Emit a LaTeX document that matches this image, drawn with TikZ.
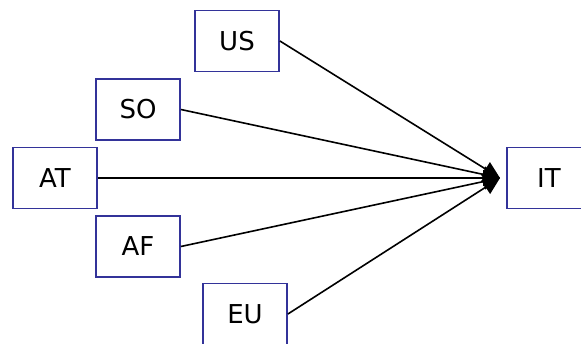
\documentclass[tikz,border=0pt]{standalone}
\usepackage{fontspec}
\setmainfont{DejaVu Sans}
\usepackage{xcolor}
\usetikzlibrary{arrows.meta,positioning}
\definecolor{boxblue}{HTML}{333399}
\begin{document}
\begin{tikzpicture}[x=1pt,y=1pt,
    box/.style={draw=boxblue,line width=1.8pt,minimum width=84pt,minimum height=61pt,
      inner sep=0pt,font=\fontsize{26}{30}\selectfont},
    flow/.style={-{Triangle[length=17pt,width=16pt]},line width=1.6pt,black}
  ]
    \useasboundingbox (0,0) rectangle (581,343);
    \node[box] (us) at (237,302) {US};
    \node[box] (so) at (138,233.5) {SO};
    \node[box] (at) at (55,165) {AT};
    \node[box] (af) at (138,96.5) {AF};
    \node[box] (eu) at (245,29) {EU};
    \node[box] (it) at (549,165) {IT};
    \coordinate (hub) at (500,165);
    \draw[flow] (us.east) -- (hub);
    \draw[flow] (so.east) -- (hub);
    \draw[flow] (at.east) -- (hub);
    \draw[flow] (af.east) -- (hub);
    \draw[flow] (eu.east) -- (hub);
  \end{tikzpicture}
\end{document}
